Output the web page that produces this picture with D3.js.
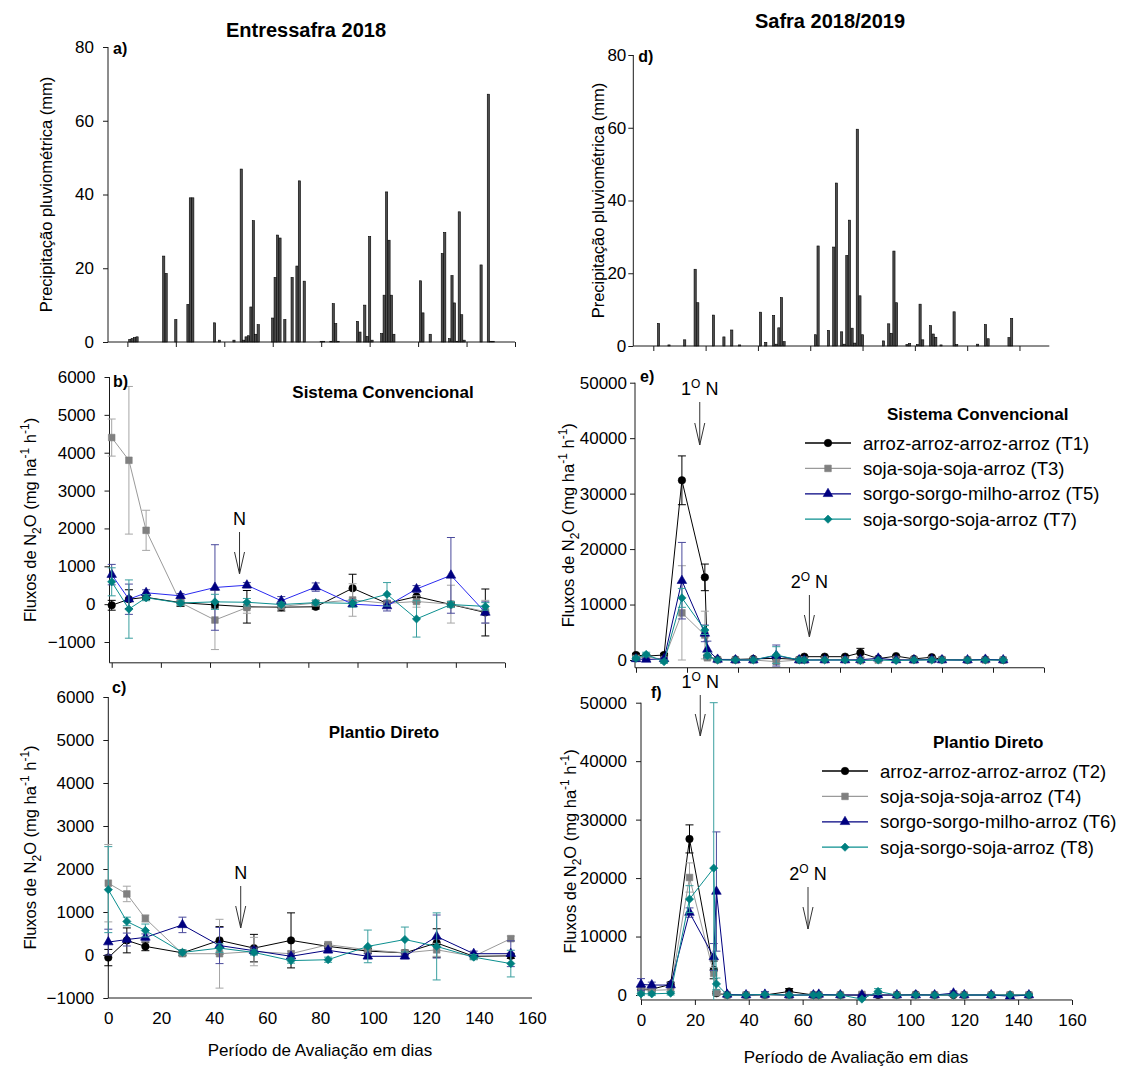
<!DOCTYPE html>
<html>
<head>
<meta charset="utf-8">
<script src="https://cdn.jsdelivr.net/npm/d3@7"></script>
<style>
  body { margin: 0; background: #fff; }
  svg { font-family: "Liberation Sans", Arial, sans-serif; }
</style>
</head>
<body>
<script>
const w = 1144;
const h = 1066;

// precipitação diária (mm) - dias
const rainDaysEntre = [1, 2, 3, 4, 15, 16, 20, 25, 26, 27, 36, 38, 44, 47, 48, 49, 50, 51, 52, 53, 54,
  60, 61, 62, 63, 65, 68, 70, 71, 73, 80, 81, 84, 85, 86, 87, 95, 96, 98, 99, 100, 101,
  105, 106, 107, 108, 109, 110, 121, 122, 125, 130, 131, 133, 134, 135, 136, 137, 138, 139,
  146, 149, 150, 151];
const rainEntre = [0.7, 0.9, 1.2, 1.4, 23.3, 18.6, 6.1, 10.2, 39.1, 39.1, 5.2, 0.5, 0.5, 46.9, 0.5, 1.4, 1.7, 9.5, 32.9, 2.1, 4.7,
  6.5, 17.5, 29, 28.2, 6.1, 17.5, 20.6, 43.7, 16.5, 0.2, 0.2, 0.2, 10.4, 5, 0.2, 5.6, 2.7, 10, 1.5, 28.6, 0.5,
  2.3, 12.7, 40.7, 27.6, 12.7, 2.1, 16.6, 7.9, 2.1, 24, 29.7, 0.9, 18, 10.6, 0.2, 35.3, 7.4, 0.5,
  20.9, 67.2, 0.2, 0.2];
const rainDaysSafra = [2, 6, 12, 16, 17, 23, 27, 30, 33, 41, 43, 46, 47, 48, 49, 50,
  62, 63, 67, 69, 70, 72, 73, 74, 75, 76, 77, 78, 79, 80, 88, 90, 91, 92, 93,
  97, 98, 101, 102, 103, 106, 107, 108, 110, 115, 116, 124, 127, 128, 136, 137];
const rainSafra = [6.2, 0.3, 1.7, 21.1, 11.9, 8.5, 2.5, 4.4, 0.3, 9.3, 1.0, 8.4, 0.5, 5.0, 13.3, 1.2,
  3.1, 27.5, 4.3, 27.2, 44.8, 3.9, 0.5, 24.9, 34.6, 4.9, 0.8, 59.6, 13.8, 3.1, 1.4, 6.1, 3.5, 26.1, 11.9,
  0.4, 0.7, 0.4, 11.5, 1.7, 5.6, 3.3, 2.4, 0.3, 9.4, 0.4, 0.5, 5.9, 2.0, 2.3, 7.6];

const rainTicks = [0, 20, 40, 60, 80];
const dayTicks = [0, 20, 40, 60, 80, 100, 120, 140, 160];
const rainDayTicksSafra = [0, 20, 40, 60, 80, 100, 120, 140];
const fluxTicksEntre = [-1000, 0, 1000, 2000, 3000, 4000, 5000, 6000];
const fluxTicksSafra = [0, 10000, 20000, 30000, 40000, 50000];

// Entressafra 2018 - dias de coleta
const daysEntre = [0, 7, 14, 28, 42, 55, 69, 83, 98, 112, 124, 138, 152];
// Sistema Convencional
const t1 = [-30, 130, 180, 40, -20, -70, -80, -70, 420, 20, 200, -10, -220];
const t1err = [130, 250, 60, 100, 80, 430, 100, 60, 370, 60, 150, 60, 620];
const t3 = [4400, 3800, 1950, 40, -420, -90, -60, 30, 110, 20, 70, 0, -200];
const t3err = [490, 1950, 530, 60, 780, 150, 60, 60, 430, 80, 150, 500, 300];
const t5 = [780, 130, 300, 220, 440, 500, 90, 450, 0, -50, 400, 760, -220];
const t5err = [270, 400, 80, 60, 1130, 70, 110, 110, 60, 130, 90, 1000, 280];
const t7 = [590, -130, 170, 30, 60, 50, -10, 40, 20, 260, -390, -10, -60];
const t7err = [370, 770, 80, 60, 200, 100, 60, 60, 100, 310, 480, 80, 100];
// Plantio Direto
const t2 = [-60, 340, 200, 50, 340, 160, 340, 200, 90, 50, 280, -30, -20];
const t2err = [190, 290, 100, 60, 320, 320, 640, 60, 60, 60, 330, 60, 60];
const t4 = [1670, 1420, 850, 30, 30, 80, 30, 240, 120, 50, 120, -30, 380];
const t4err = [900, 180, 80, 60, 800, 330, 60, 60, 60, 60, 150, 60, 60];
const t6 = [300, 360, 410, 700, 220, 100, -30, 110, -30, -30, 430, 30, 30];
const t6err = [300, 150, 80, 180, 420, 80, 60, 60, 60, 60, 500, 60, 300];
const t8 = [1520, 780, 570, 60, 160, 60, -130, -110, 200, 360, 200, -50, -200];
const t8err = [1000, 100, 150, 60, 100, 60, 60, 60, 380, 290, 780, 60, 310];

// Safra 2018/2019 - dias de coleta
const daysSafra = [0, 4, 11, 18, 27, 28, 32, 39, 46, 55, 64, 66, 74, 82, 88, 95, 102, 109, 116, 120, 130, 137, 144];
// Sistema Convencional
const s1 = [900, 700, 900, 32400, 14900, 600, 100, 100, 200, 300, 100, 600, 600, 600, 1300, 250, 700, 200, 500, 100, 0, 100, 0];
const s1err = [300, 200, 300, 4400, 2400, 300, 100, 100, 100, 200, 100, 100, 100, 100, 800, 100, 100, 100, 100, 100, 100, 100, 100];
const s3 = [300, 600, 100, 8500, 4500, 400, 50, 0, 0, -300, 0, 0, 50, 50, -100, 0, 100, 0, 50, 50, 0, 0, 0];
const s3err = [200, 300, 200, 8500, 4300, 300, 100, 100, 100, 300, 100, 100, 100, 100, 100, 100, 100, 100, 100, 100, 100, 100, 100];
const s5 = [200, 100, 200, 14300, 4800, 1900, 100, 0, 0, 800, 0, 0, 0, 0, 50, 300, 0, 0, 100, 0, 0, 100, 0];
const s5err = [200, 200, 200, 6900, 1500, 1500, 100, 100, 100, 1900, 100, 100, 100, 100, 100, 100, 100, 100, 100, 100, 100, 100, 100];
const s7 = [300, 1000, -300, 11200, 5400, 800, 0, 0, 0, 900, 0, 0, 0, 0, -100, 0, -100, 0, 0, 0, 0, 0, 0];
const s7err = [300, 400, 300, 1700, 800, 500, 100, 100, 100, 1500, 100, 100, 100, 100, 100, 100, 100, 100, 100, 100, 100, 100, 100];
// Plantio Direto
const s2 = [1000, 1000, 1800, 26700, 4300, 300, 0, 0, 0, 600, 0, 0, 0, 0, 0, 0, 100, 0, 0, 0, 0, 0, 0];
const s2err = [300, 300, 400, 2400, 1500, 300, 100, 100, 100, 500, 100, 100, 100, 100, 100, 100, 100, 100, 100, 100, 100, 100, 100];
const s4 = [850, 800, 900, 20100, 3700, 400, 0, 0, 0, -100, 0, 0, 0, 100, 100, 0, 0, 0, 200, 0, 0, 0, 0];
const s4err = [300, 300, 300, 2500, 1000, 300, 100, 100, 100, 100, 100, 100, 100, 100, 100, 100, 100, 100, 100, 100, 100, 100, 100];
const s6 = [1800, 1700, 1700, 14100, 6500, 17700, 100, 0, 100, 0, 0, 100, 0, 0, 0, 0, 0, 0, 300, 0, 0, -200, 0];
const s6err = [1000, 500, 400, 800, 2300, 10200, 100, 100, 500, 100, 100, 100, 100, 100, 100, 100, 100, 100, 200, 100, 100, 100, 100];
const s8 = [200, 200, 300, 16400, 21700, 1900, 0, 0, 100, 0, 0, 0, 0, -700, 600, 0, 0, 0, 0, 0, 0, 0, 0];
const s8err = [300, 300, 300, 2300, 28400, 1000, 100, 100, 100, 100, 100, 100, 100, 100, 500, 100, 100, 100, 100, 100, 100, 100, 100];

const namesConv = ["arroz-arroz-arroz-arroz (T1)", "soja-soja-soja-arroz (T3)", "sorgo-sorgo-milho-arroz (T5)", "soja-sorgo-soja-arroz (T7)"];
const namesPD = ["arroz-arroz-arroz-arroz (T2)", "soja-soja-soja-arroz (T4)", "sorgo-sorgo-milho-arroz (T6)", "soja-sorgo-soja-arroz (T8)"];

//series look
const looks = [
  { line: "#000000", mark: "#000000", err: "#000000", shape: "circle" },
  { line: "#9a9a9a", mark: "#808080", err: "#a6a6a6", shape: "square" },
  { line: "#000080", mark: "#000080", err: "#4a4a9c", shape: "triangle" },
  { line: "#0b8f8f", mark: "#008080", err: "#3a9f9f", shape: "diamond" },
];

let svg = d3.select("body").append("svg").attr("width", w).attr("height", h);
svg.append("rect").attr("width", w).attr("height", h).attr("fill", "#fff");

const axisColor = "#1a1a1a";

function symbolPath(shape) {
  if (shape === "circle") return d3.symbol(d3.symbolCircle, 44)();
  if (shape === "square") return d3.symbol(d3.symbolSquare, 44)();
  if (shape === "triangle") return d3.symbol(d3.symbolTriangle, 40)();
  return d3.symbol(d3.symbolSquare, 34)();
}

function marker(g, shape, cx, cy, color) {
  g.append("path")
    .attr("d", symbolPath(shape))
    .attr("transform", `translate(${cx},${cy})` + (shape === "diamond" ? " rotate(45)" : ""))
    .attr("fill", color)
    .attr("stroke", color)
    .attr("stroke-width", 0.6);
}

function styleAxis(a, size) {
  a.select(".domain").remove();
  a.attr("font-family", null).attr("font-size", size).attr("color", axisColor);
  a.selectAll("text").attr("fill", "#000");
}

function leftAxis(g, y, ticks, ax, yTop, yBot, pad) {
  g.append("g")
    .attr("transform", `translate(${ax},0)`)
    .call(d3.axisLeft(y).tickValues(ticks).tickSize(5).tickPadding(pad).tickFormat(d3.format("d")))
    .call(a => styleAxis(a, 17));
  g.append("line").attr("x1", ax).attr("x2", ax).attr("y1", yTop).attr("y2", yBot)
    .attr("stroke", axisColor);
}

function bottomAxis(g, x, ticks, ax, xEnd, yBot, marks, labels) {
  const axis = d3.axisBottom(x).tickValues(ticks).tickSize(marks ? 5 : 0)
    .tickPadding(marks ? 9 : 14)
    .tickFormat(labels ? d3.format("d") : "");
  g.append("g")
    .attr("transform", `translate(0,${yBot})`)
    .call(axis)
    .call(a => styleAxis(a, 17));
  g.append("line").attr("x1", ax).attr("x2", xEnd).attr("y1", yBot).attr("y2", yBot)
    .attr("stroke", axisColor);
}

//bars of rain
function rainPanel(o) {
  const g = svg.append("g");
  const x = d3.scaleLinear().domain(o.xDom).range([o.xL, o.xR]);
  const y = d3.scaleLinear().domain([0, 80]).range([o.yB, o.yT]);
  g.selectAll("rect")
    .data(o.days.map((d, i) => ({ d: d, v: o.vals[i] })))
    .enter()
    .append("rect")
    .attr("x", d => x(d.d) - 1.1)
    .attr("width", 2.2)
    .attr("y", d => y(d.v))
    .attr("height", d => o.yB - y(d.v))
    .attr("fill", "#4d4d4d")
    .attr("stroke", "#000")
    .attr("stroke-width", 0.6);
  leftAxis(g, y, rainTicks, o.xL, o.yT, o.yB, o.pad);
  bottomAxis(g, x, o.ticks, o.xL, o.xR, o.yB, true, false);
  g.append("text").attr("x", o.xL + 5).attr("y", o.yT + 7)
    .attr("font-size", 16).attr("font-weight", "bold").text(o.tag);
  g.append("text")
    .attr("transform", `translate(${o.titleX},${(o.yT + o.yB) / 2}) rotate(-90)`)
    .attr("text-anchor", "middle").attr("font-size", 16.5)
    .text("Precipitação pluviométrica (mm)");
}

function arrow(g, xp, y1, y2, label, sup) {
  g.append("path")
    .attr("d", `M${xp},${y1}V${y2}M${xp - 5},${y2 - 22}L${xp},${y2}L${xp + 5},${y2 - 22}`)
    .attr("fill", "none").attr("stroke", "#333").attr("stroke-width", 1);
  const t = g.append("text").attr("x", xp).attr("y", y1 - 7)
    .attr("text-anchor", "middle").attr("font-size", 18);
  if (sup) {
    t.append("tspan").text(label);
    t.append("tspan").attr("dy", -7).attr("font-size", 12).text("O");
    t.append("tspan").attr("dy", 7).text(" N");
  } else {
    t.text("N");
  }
}

function fluxTitle(g, tx, ty) {
  const t = g.append("text")
    .attr("transform", `translate(${tx},${ty}) rotate(-90)`)
    .attr("text-anchor", "middle").attr("font-size", 16.5);
  t.append("tspan").text("Fluxos de N");
  t.append("tspan").attr("dy", 5).attr("font-size", 12).text("2");
  t.append("tspan").attr("dy", -5).text("O (mg ha");
  t.append("tspan").attr("dy", -7).attr("font-size", 12).text("-1");
  t.append("tspan").attr("dy", 7).text(" h");
  t.append("tspan").attr("dy", -7).attr("font-size", 12).text("-1");
  t.append("tspan").attr("dy", 7).text(")");
}

function fluxPanel(o) {
  const g = svg.append("g");
  const x = d3.scaleLinear().domain([0, 160]).range([o.x0, o.x160]);
  const y = d3.scaleLinear().domain([o.lo, o.hi]).range([o.yLo, o.yHi]);
  const yBot = y(o.yMin);
  const yTop = y(o.hi);

  leftAxis(g, y, o.ticks, o.ax, yTop, yBot, o.pad);
  bottomAxis(g, x, dayTicks, o.ax, o.xEnd, yBot, o.xMarks, o.xLabels);

  o.series.forEach((s, k) => {
    const look = looks[k];
    const lineCol = (o.lineCols && o.lineCols[k]) || look.line;
    const pts = o.days.map((d, i) => ({ d: d, v: s[0][i], e: s[1][i] }));
    // error bars
    pts.forEach(p => {
      const top = Math.min(p.v + p.e, o.hi);
      const lowClip = p.v - p.e < o.yMin;
      const bot = Math.max(p.v - p.e, o.yMin);
      const cx = x(p.d);
      g.append("line").attr("x1", cx).attr("x2", cx).attr("y1", y(top)).attr("y2", y(bot))
        .attr("stroke", look.err).attr("stroke-width", 1);
      g.append("line").attr("x1", cx - 4).attr("x2", cx + 4).attr("y1", y(top)).attr("y2", y(top))
        .attr("stroke", look.err).attr("stroke-width", 1);
      if (!lowClip) {
        g.append("line").attr("x1", cx - 4).attr("x2", cx + 4).attr("y1", y(bot)).attr("y2", y(bot))
          .attr("stroke", look.err).attr("stroke-width", 1);
      }
    });
    g.append("path")
      .datum(pts)
      .attr("d", d3.line().x(p => x(p.d)).y(p => y(p.v)))
      .attr("fill", "none").attr("stroke", lineCol).attr("stroke-width", 1);
    pts.forEach(p => marker(g, look.shape, x(p.d), y(p.v), look.mark));
  });

  g.append("text").attr("x", o.tagX).attr("y", o.tagY)
    .attr("font-size", 16).attr("font-weight", "bold").text(o.tag);
  fluxTitle(g, o.titleX, (yTop + yBot) / 2);

  o.arrows.forEach(a => arrow(g, x(a.day), a.y1, a.y2, a.label, a.sup));

  if (o.names) {
    g.append("text").attr("x", o.grpX).attr("y", o.legY - 23)
      .attr("font-size", 17).attr("font-weight", "bold").text(o.group);
    o.names.forEach((n, k) => {
      const ly = o.legY + k * 25.4;
      g.append("line").attr("x1", o.legX).attr("x2", o.legX + 46).attr("y1", ly).attr("y2", ly)
        .attr("stroke", (o.lineCols && o.lineCols[k]) || looks[k].line).attr("stroke-width", 1.3);
      marker(g, looks[k].shape, o.legX + 23, ly, looks[k].mark);
      g.append("text").attr("x", o.legX + 58).attr("y", ly + 6.5)
        .attr("font-size", 18.5).text(n);
    });
  } else {
    g.append("text").attr("x", o.grpX).attr("y", o.grpY).attr("text-anchor", "middle")
      .attr("font-size", 17).attr("font-weight", "bold").text(o.group);
  }
  return g;
}

// titles
svg.append("text").attr("x", 306).attr("y", 37).attr("text-anchor", "middle")
  .attr("font-size", 20).attr("font-weight", "bold").text("Entressafra 2018");
svg.append("text").attr("x", 830).attr("y", 28).attr("text-anchor", "middle")
  .attr("font-size", 20).attr("font-weight", "bold").text("Safra 2018/2019");

// a) and d)
rainPanel({ days: rainDaysEntre, vals: rainEntre, xDom: [-8, 160], xL: 108, xR: 515, yT: 47, yB: 342,
  ticks: dayTicks, tag: "a)", titleX: 52, pad: 9 });
rainPanel({ days: rainDaysSafra, vals: rainSafra, xDom: [-7.65, 151.4], xL: 633.3, xR: 1049.3, yT: 55, yB: 346,
  ticks: rainDayTicksSafra, tag: "d)", titleX: 604, pad: 2 });

// b)
fluxPanel({
  days: daysEntre, series: [[t1, t1err], [t3, t3err], [t5, t5err], [t7, t7err]],
  x0: 111.7, x160: 505, ax: 109.5, xEnd: 505, lo: -1000, hi: 6000, yLo: 642, yHi: 377, yMin: -1550,
  ticks: fluxTicksEntre, xMarks: true, xLabels: false, pad: 9,
  lineCols: [null, null, "#2a2af0", null],
  tag: "b)", tagX: 113, tagY: 387, titleX: 36,
  group: "Sistema Convencional", grpX: 383, grpY: 398,
  arrows: [{ day: 52, y1: 532, y2: 574 }],
});
// c)
fluxPanel({
  days: daysEntre, series: [[t2, t2err], [t4, t4err], [t6, t6err], [t8, t8err]],
  x0: 108.3, x160: 532, ax: 108.3, xEnd: 532, lo: -1000, hi: 6000, yLo: 998, yHi: 697, yMin: -1000,
  ticks: fluxTicksEntre, xMarks: false, xLabels: true, pad: 9,
  tag: "c)", tagX: 112, tagY: 693, titleX: 36,
  group: "Plantio Direto", grpX: 384, grpY: 738,
  arrows: [{ day: 50, y1: 886, y2: 928 }],
});
// e)
fluxPanel({
  days: daysSafra, series: [[s1, s1err], [s3, s3err], [s5, s5err], [s7, s7err]],
  x0: 636, x160: 1044, ax: 635, xEnd: 1044, lo: 0, hi: 50000, yLo: 660, yHi: 382.7, yMin: -1400,
  ticks: fluxTicksSafra, xMarks: true, xLabels: false, pad: 3,
  tag: "e)", tagX: 640, tagY: 382, titleX: 574,
  group: "Sistema Convencional", grpX: 887, names: namesConv, legX: 805, legY: 443,
  arrows: [{ day: 25, y1: 402, y2: 445, label: "1", sup: true }, { day: 68, y1: 595, y2: 637, label: "2", sup: true }],
});
// f)
fluxPanel({
  days: daysSafra, series: [[s2, s2err], [s4, s4err], [s6, s6err], [s8, s8err]],
  x0: 641, x160: 1072, ax: 641, xEnd: 1072, lo: 0, hi: 50000, yLo: 995, yHi: 702.7, yMin: -850,
  ticks: fluxTicksSafra, xMarks: true, xLabels: true, pad: 9,
  tag: "f)", tagX: 651, tagY: 698, titleX: 576,
  group: "Plantio Direto", grpX: 933, names: namesPD, legX: 822, legY: 771,
  arrows: [{ day: 22, y1: 695, y2: 736, label: "1", sup: true }, { day: 62, y1: 887, y2: 929, label: "2", sup: true }],
});

// x axis titles
svg.append("text").attr("x", 320).attr("y", 1056).attr("text-anchor", "middle")
  .attr("font-size", 17).text("Período de Avaliação em dias");
svg.append("text").attr("x", 856).attr("y", 1063).attr("text-anchor", "middle")
  .attr("font-size", 17).text("Período de Avaliação em dias");
</script>
</body>
</html>
